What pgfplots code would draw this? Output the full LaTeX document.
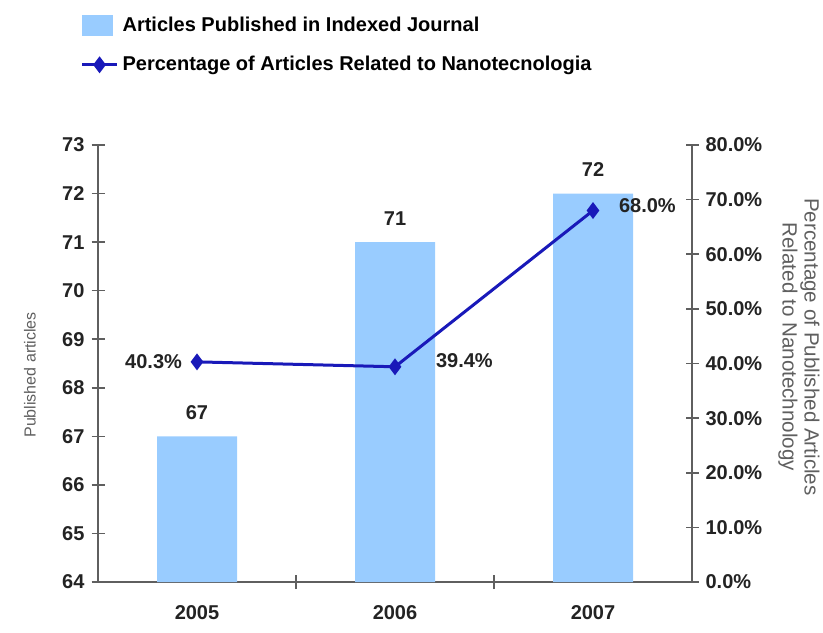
\documentclass[border=0pt]{standalone}
\usepackage{pgfplots}
\pgfplotsset{compat=1.18}
\usepackage{fontspec}
\setmainfont{Liberation Sans}
\definecolor{barblue}{RGB}{153,204,255}
\definecolor{lineblue}{RGB}{25,25,185}
\definecolor{axgray}{RGB}{95,95,95}
\definecolor{txt}{RGB}{35,35,35}
\pgfplotsset{
  myline legend/.style={legend image code/.code={\draw[mark repeat=2,mark phase=2,##1] plot coordinates {(0pt,0pt)(8.75pt,0pt)(17.5pt,0pt)};}},
  mybar legend/.style={legend image code/.code={\fill[barblue] (0pt,-5pt) rectangle (15pt,5pt);}},
  base/.style={
    width=297pt, height=218.5pt, scale only axis,
    xmin=-0.5, xmax=2.5,
    tick align=center,
    axis line style={axgray, line width=0.9pt},
    tick style={axgray, line width=0.8pt},
    major tick length=6.5pt,
    tick label style={font=\fontsize{10}{12}\selectfont\bfseries, text=txt},
    /pgf/number format/assume math mode=true,
  }
}
\begin{document}
\begin{tikzpicture}
\begin{axis}[base, name=main,
  axis y line*=left, axis x line*=bottom,
  ymin=64, ymax=73, ytick={64,65,...,73},
  xtick={0,1,2}, xticklabels={2005,2006,2007},
  minor xtick={0.5,1.5}, minor tick length=7pt,
  major x tick style={draw=none},
  minor x tick style={yshift=3.5pt},
  xticklabel style={yshift=-1.5pt},
  ylabel={Published articles},
  ylabel style={font=\fontsize{8}{10}\selectfont, text=axgray, at={(axis description cs:-0.1145,0.474)}, anchor=center},
  ybar, bar width=40pt,
  nodes near coords,
  nodes near coords style={font=\fontsize{10}{12}\selectfont\bfseries, text=txt, yshift=5pt},
]
\addplot[fill=barblue, draw=none] coordinates {(0,67) (1,71) (2,72)};
\end{axis}
\begin{axis}[base,
  axis y line*=right, axis x line=none,
  ymin=0, ymax=80, ytick={0,10,20,30,40,50,60,70,80},
  yticklabels={0.0\%,10.0\%,20.0\%,30.0\%,40.0\%,50.0\%,60.0\%,70.0\%,80.0\%},
  ylabel={Percentage of Published Articles\\Related to Nanotechnology},
  ylabel style={align=center, font=\fontsize{10.3}{11}\selectfont, text=axgray, at={(axis description cs:1.18,0.538)}, anchor=center, rotate=180},
  legend style={at={(axis description cs:-0.030,1.304)}, anchor=north west, draw=none, fill=none,
    font=\fontsize{10}{12}\selectfont\bfseries, row sep=7pt, inner sep=0pt},
  legend cell align=left,
]
\addlegendimage{mybar legend}
\addlegendentry{Articles Published in Indexed Journal}
\addplot[lineblue, line width=1.5pt, mark=diamond*, mark size=3pt, mark options={fill=lineblue}, myline legend]
  coordinates {(0,40.3) (1,39.4) (2,68.0)};
\addlegendentry{Percentage of Articles Related to Nanotecnologia}
\node[anchor=east, font=\fontsize{10}{12}\selectfont\bfseries, text=txt, xshift=-4pt] at (axis cs:0,40.3) {40.3\%};
\node[anchor=west, font=\fontsize{10}{12}\selectfont\bfseries, text=txt, xshift=17pt, yshift=3pt] at (axis cs:1,39.4) {39.4\%};
\node[anchor=west, font=\fontsize{10}{12}\selectfont\bfseries, text=txt, xshift=9.5pt, yshift=2.5pt] at (axis cs:2,68.0) {68.0\%};
\end{axis}
\pgfresetboundingbox
\path (main.south west) ++(-49pt,-25pt) rectangle ++(411.5pt,316pt);
\end{tikzpicture}
\end{document}
